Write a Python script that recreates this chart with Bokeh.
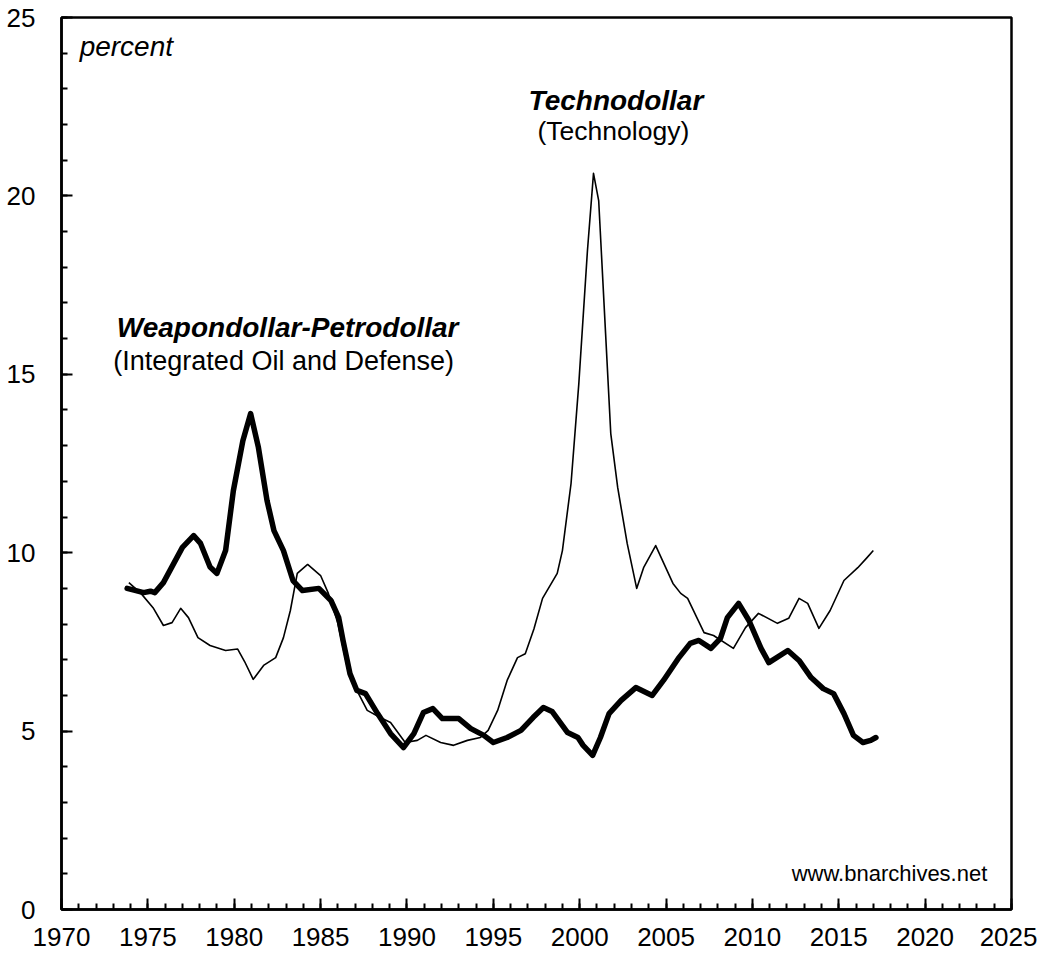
from bokeh.plotting import figure
from bokeh.models import Label, SingleIntervalTicker, Range1d
from bokeh.embed import file_html
from bokeh.resources import INLINE

# Weapondollar-Petrodollar (Integrated Oil and Defense), percent
w_year = [1973.8, 1974.2, 1974.75, 1975.15, 1975.4, 1975.9, 1976.5, 1977.0, 1977.65, 1978.05,
          1978.6, 1979.0, 1979.5, 1979.95, 1980.5, 1980.95, 1981.4, 1981.9, 1982.3, 1982.85,
          1983.4, 1983.95, 1984.9, 1985.6, 1986.05, 1986.3, 1986.7, 1987.1, 1987.6, 1988.3,
          1989.05, 1989.8, 1990.4, 1990.95, 1991.5, 1992.05, 1993.0, 1993.7, 1994.45, 1995.0,
          1995.8, 1996.6, 1997.3, 1997.9, 1998.4, 1999.3, 1999.9, 2000.2, 2000.75, 2001.2,
          2001.7, 2002.4, 2003.25, 2004.2, 2004.85, 2005.7, 2006.4, 2006.9, 2007.6, 2008.15,
          2008.55, 2009.2, 2009.8, 2010.5, 2010.95, 2012.05, 2012.7, 2013.4, 2014.1, 2014.7,
          2015.3, 2015.85, 2016.4, 2016.85, 2017.15]
w_val = [9.0, 8.95, 8.88, 8.92, 8.88, 9.16, 9.7, 10.15, 10.48, 10.26,
         9.6, 9.42, 10.06, 11.74, 13.14, 13.9, 12.95, 11.46, 10.62, 10.06,
         9.22, 8.94, 9.0, 8.66, 8.18, 7.54, 6.61, 6.14, 6.05, 5.49,
         4.93, 4.54, 4.93, 5.52, 5.63, 5.35, 5.35, 5.07, 4.88, 4.68,
         4.82, 5.02, 5.38, 5.66, 5.55, 4.96, 4.82, 4.6, 4.32, 4.82,
         5.49, 5.86, 6.22, 6.0, 6.42, 7.03, 7.46, 7.54, 7.32, 7.6,
         8.18, 8.58, 8.1, 7.32, 6.92, 7.26, 6.98, 6.5, 6.19, 6.05,
         5.49, 4.88, 4.68, 4.74, 4.82]

# Technodollar (Technology), percent
t_year = [1973.9, 1974.6, 1975.3, 1975.9, 1976.4, 1976.9, 1977.35, 1977.9, 1978.6, 1979.5,
          1980.2, 1980.6, 1981.1, 1981.7, 1982.4, 1982.85, 1983.25, 1983.65, 1984.25, 1985.0,
          1985.45, 1986.0, 1986.55, 1987.1, 1987.7, 1988.45, 1989.05, 1989.9, 1990.6, 1991.1,
          1991.95, 1992.7, 1993.5, 1994.25, 1994.7, 1995.25, 1995.8, 1996.4, 1996.85, 1997.35,
          1997.85, 1998.7, 1999.0, 1999.5, 1999.95, 2000.45, 2000.8, 2001.1, 2001.5, 2001.8,
          2002.2, 2002.75, 2003.3, 2003.7, 2004.4, 2005.4, 2005.85, 2006.25, 2007.2, 2007.75,
          2008.9, 2009.6, 2010.35, 2011.45, 2012.1, 2012.7, 2013.2, 2013.85, 2014.5, 2015.3,
          2016.1, 2016.65, 2017.0]
t_val = [9.16, 8.86, 8.46, 7.96, 8.04, 8.44, 8.18, 7.62, 7.4, 7.26,
         7.3, 6.95, 6.45, 6.84, 7.06, 7.62, 8.38, 9.42, 9.67, 9.36,
         8.86, 8.02, 6.78, 6.14, 5.58, 5.38, 5.24, 4.68, 4.74, 4.88,
         4.68, 4.6, 4.74, 4.82, 5.02, 5.58, 6.42, 7.06, 7.17, 7.86,
         8.72, 9.42, 10.06, 11.94, 14.74, 18.47, 20.63, 19.87, 16.14, 13.34,
         11.83, 10.26, 9.0, 9.58, 10.2, 9.14, 8.86, 8.72, 7.76, 7.68,
         7.32, 7.9, 8.3, 8.02, 8.16, 8.72, 8.58, 7.88, 8.38, 9.22,
         9.58, 9.87, 10.06]

x_start, x_end, x_step = 1970, 2025, 5
y_start, y_end, y_step = 0, 25, 5

FONT = "Liberation Sans"

p = figure(width=1037, height=958, output_backend="svg", toolbar_location=None,
           x_range=Range1d(x_start, x_end), y_range=Range1d(y_start, y_end),
           min_border_left=61, min_border_right=26, min_border_top=17, min_border_bottom=49)
p.background_fill_color = "white"
p.border_fill_color = "white"
p.outline_line_color = "black"
p.outline_line_width = 2.5
p.grid.visible = False

p.line(t_year, t_val, line_color="black", line_width=1.6, line_join="round")
p.line(w_year, w_val, line_color="black", line_width=5.5, line_join="round", line_cap="round")

p.xaxis.ticker = SingleIntervalTicker(interval=x_step, num_minor_ticks=5)
p.yaxis.ticker = SingleIntervalTicker(interval=y_step, num_minor_ticks=5)
for ax in (p.xaxis[0], p.yaxis[0]):
    ax.axis_line_width = 2.5
    ax.axis_line_color = "black"
    ax.major_tick_in = 11
    ax.major_tick_out = 0
    ax.minor_tick_in = 6
    ax.minor_tick_out = 0
    ax.major_tick_line_width = 2
    ax.minor_tick_line_width = 2
    ax.major_tick_line_color = "black"
    ax.minor_tick_line_color = "black"
    ax.major_label_text_font = FONT
    ax.major_label_text_font_size = "26px"
    ax.major_label_text_color = "black"
p.xaxis.major_label_standoff = 18
p.yaxis.major_label_standoff = 26
p.yaxis.major_label_text_align = "center"

def lab(x, y, text, size, style="normal", align="left"):
    p.add_layout(Label(x=x, y=y, text=text, text_font=FONT, text_font_size=size,
                       text_font_style=style, text_align=align, text_baseline="middle",
                       text_color="black"))

lab(1971.05, 24.2, "percent", "28px", "italic")
lab(2002.1, 22.68, "Technodollar", "28px", "bold italic", "center")
lab(2001.95, 21.82, "(Technology)", "26.5px", "normal", "center")
lab(1973.2, 16.3, "Weapondollar-Petrodollar", "28px", "bold italic")
lab(1973.0, 15.38, "(Integrated Oil and Defense)", "27px")
lab(2023.6, 1.0, "www.bnarchives.net", "22px", "normal", "right")

open("out.html", "w").write(file_html(p, INLINE))
